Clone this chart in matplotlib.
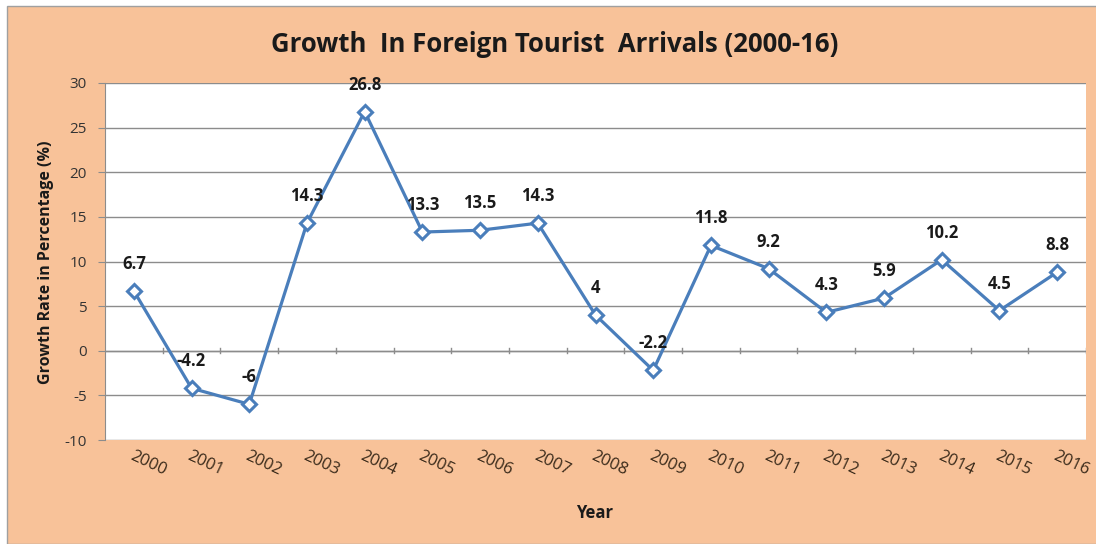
import matplotlib
matplotlib.use("Agg")
import matplotlib.pyplot as plt
from matplotlib.patches import Rectangle

years = ["2000", "2001", "2002", "2003", "2004", "2005", "2006", "2007", "2008",
         "2009", "2010", "2011", "2012", "2013", "2014", "2015", "2016"]
growth = [6.7, -4.2, -6, 14.3, 26.8, 13.3, 13.5, 14.3, 4, -2.2, 11.8, 9.2, 4.3, 5.9, 10.2, 4.5, 8.8]
labels = ["6.7", "-4.2", "-6", "14.3", "26.8", "13.3", "13.5", "14.3", "4", "-2.2",
          "11.8", "9.2", "4.3", "5.9", "10.2", "4.5", "8.8"]
yticks = [-10, -5, 0, 5, 10, 15, 20, 25, 30]

FONT = "Open Sans"
W, H = 1096, 544
bg = "#F8C299"
line_c = "#4A7EBB"
fig = plt.figure(figsize=(W / 100, H / 100), dpi=100)
fig.patch.set_facecolor("white")
fig.patches.append(Rectangle((7 / W, 0), 1, 1 - 6 / H, transform=fig.transFigure,
                             facecolor=bg, edgecolor="#A0A0A0", linewidth=1.0, zorder=-10))

ax = fig.add_axes([105 / W, 1 - 440 / H, (1086 - 105) / W, (440 - 83) / H])
ax.set_facecolor("white")
x = list(range(len(years)))
ax.plot(x, growth, color=line_c, linewidth=2.3, marker="D", markersize=7,
        markerfacecolor="white", markeredgecolor=line_c, markeredgewidth=2.2, zorder=3)
for xi, v, t in zip(x, growth, labels):
    ax.annotate(t, (xi, v), xytext=(0, 13), textcoords="offset points", ha="center",
                va="bottom", fontsize=12, fontweight="bold", color="#1a1a1a", family=FONT)

ax.set_xlim(-0.5, len(years) - 0.5)
ax.set_ylim(-10, 30)
ax.set_yticks(yticks)
ax.set_yticklabels([str(t) for t in yticks], fontsize=11, color="#333333", family=FONT)
ax.yaxis.grid(True, color="#8C8C8C", linewidth=1.0)
ax.set_axisbelow(True)
for s in ["top", "right", "bottom"]:
    ax.spines[s].set_visible(False)
ax.spines["left"].set_color("#8C8C8C")
ax.tick_params(axis="y", length=5, color="#8C8C8C", pad=8)

# x axis at 0 with tick marks between categories
ax.axhline(0, color="#8C8C8C", linewidth=1.0, zorder=1)
for b in [i + 0.5 for i in range(len(years))]:
    ax.plot([b, b], [-0.3, 0.3], color="#8C8C8C", linewidth=1.0, zorder=1)
ax.set_xticks(x)
ax.set_xticklabels(years, rotation=-25, ha="left", rotation_mode="anchor",
                   fontsize=12, color="#3a2a1a", family=FONT)
ax.tick_params(axis="x", length=0, pad=6)

fig.text(555 / W, 1 - 45 / H, "Growth  In Foreign Tourist  Arrivals (2000-16)", ha="center",
         va="center", fontsize=18.5, fontweight="bold", color="#1a1a1a", family=FONT)
fig.text(46 / W, 1 - 262 / H, "Growth Rate in Percentage (%)", rotation=90, ha="center",
         va="center", fontsize=11.5, fontweight="bold", color="#1a1a1a", family=FONT)
fig.text(595 / W, 1 - 513 / H, "Year", ha="center", va="center", fontsize=12,
         fontweight="bold", color="#1a1a1a", family=FONT)

fig.savefig("out.png", dpi=100, facecolor=fig.get_facecolor())
